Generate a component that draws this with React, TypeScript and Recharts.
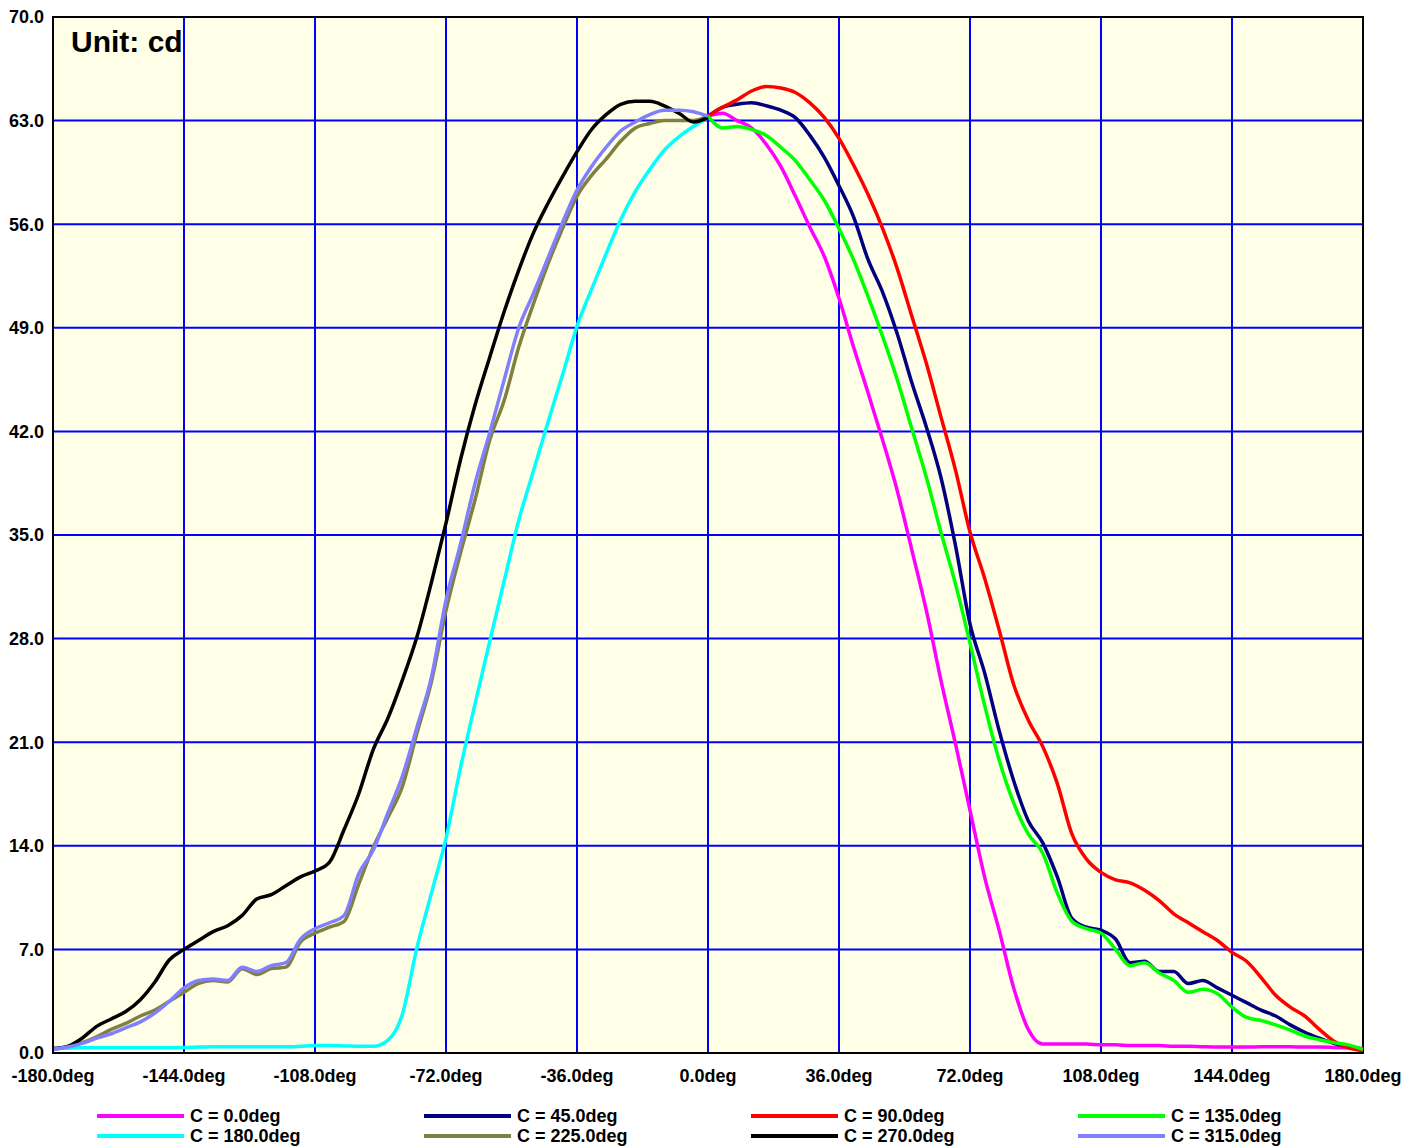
import { CartesianGrid, Line, LineChart, ReferenceArea, XAxis, YAxis } from 'recharts'

// angles (deg) — C-planes 180..315 are drawn on the left half, 0..135 on the right
const LEFT_ANGLES = [
  -180, -176, -172, -168, -164, -160, -156, -152, -148, -144, -140, -136, -132, -128, -124, -120,
  -116, -112, -108, -104, -100, -96, -92, -88, -84, -80, -76, -72, -68, -64, -60, -56, -52, -48,
  -44, -40, -36, -32, -28, -24, -20, -16, -12, -8, -4, 0,
]
const RIGHT_ANGLES = [
  0, 4, 8, 12, 16, 20, 24, 28, 32, 36, 40, 44, 48, 52, 56, 60, 64, 68, 72, 76, 80, 84, 88, 92, 96,
  100, 104, 108, 112, 116, 120, 124, 128, 132, 136, 140, 144, 148, 152, 156, 160, 164, 168, 172,
  176, 180,
]

// intensity, cd
const C_0 = [
  63.3, 63.5, 63.0, 62.5, 61.4, 59.9, 57.9, 55.8, 53.8, 51.0, 47.7, 44.6, 41.4, 38.0, 34.0, 29.9,
  25.2, 20.9, 16.4, 11.9, 8.3, 4.4, 1.6, 0.6, 0.6, 0.6, 0.6, 0.55, 0.55, 0.5, 0.5, 0.5, 0.45, 0.45,
  0.42, 0.4, 0.4, 0.4, 0.42, 0.42, 0.42, 0.4, 0.4, 0.38, 0.35, 0.3,
]
const C_45 = [
  63.3, 63.9, 64.1, 64.2, 64.0, 63.7, 63.2, 62.0, 60.5, 58.6, 56.5, 53.6, 51.4, 48.6, 45.3, 42.3,
  38.9, 34.3, 29.0, 25.7, 21.8, 18.4, 15.7, 14.2, 11.9, 9.1, 8.5, 8.3, 7.7, 6.1, 6.2, 5.5, 5.5, 4.7,
  4.9, 4.4, 3.9, 3.4, 2.9, 2.5, 1.9, 1.4, 1.0, 0.65, 0.4, 0.25,
]
const C_90 = [
  63.3, 63.9, 64.4, 65.0, 65.3, 65.2, 64.9, 64.2, 63.2, 61.8, 60.0, 58.0, 55.7, 53.0, 49.8, 46.6,
  43.0, 39.4, 35.2, 32.1, 28.6, 24.9, 22.5, 20.7, 18.2, 14.8, 13.1, 12.2, 11.7, 11.5, 11.0, 10.3,
  9.4, 8.8, 8.2, 7.6, 6.8, 6.2, 5.1, 3.9, 3.1, 2.5, 1.6, 0.8, 0.35, 0.15,
]
const C_135 = [
  63.3, 62.5, 62.6, 62.4, 62.0, 61.2, 60.3, 59.0, 57.6, 55.7, 53.6, 51.1, 48.4, 45.5, 42.2, 38.9,
  35.2, 31.7, 27.7, 23.5, 19.8, 16.9, 14.8, 13.5, 10.8, 8.9, 8.4, 8.1, 7.0, 5.9, 6.1, 5.4, 4.9, 4.1,
  4.3, 4.0, 3.1, 2.4, 2.2, 1.9, 1.55, 1.15, 0.9, 0.7, 0.55, 0.25,
]
const C_180 = [
  0.3, 0.32, 0.35, 0.35, 0.35, 0.35, 0.35, 0.35, 0.35, 0.38, 0.4, 0.42, 0.42, 0.42, 0.42, 0.42,
  0.42, 0.45, 0.5, 0.5, 0.48, 0.45, 0.45, 0.85, 2.6, 7.1, 10.8, 14.5, 19.3, 23.6, 27.8, 31.9, 36.0,
  39.3, 42.6, 45.8, 49.1, 51.6, 54.0, 56.3, 58.2, 59.7, 61.0, 61.9, 62.6, 63.2,
]
const C_225 = [
  0.25, 0.43, 0.7, 1.1, 1.6, 2.0, 2.5, 2.9, 3.5, 4.1, 4.7, 4.9, 4.8, 5.7, 5.3, 5.7, 5.8, 7.5, 8.1,
  8.5, 8.9, 11.4, 13.9, 15.9, 18.0, 21.6, 25.1, 29.9, 33.8, 37.4, 41.4, 44.1, 47.7, 50.6, 53.3, 55.7,
  57.9, 59.3, 60.4, 61.6, 62.5, 62.8, 63.0, 63.0, 63.0, 63.3,
]
const C_270 = [
  0.3, 0.45, 1.0, 1.8, 2.3, 2.8, 3.6, 4.8, 6.3, 7.0, 7.6, 8.2, 8.6, 9.3, 10.4, 10.7, 11.3, 11.9,
  12.3, 12.9, 15.1, 17.5, 20.5, 22.6, 25.2, 28.1, 31.8, 35.8, 40.1, 43.8, 47.0, 50.1, 52.9, 55.4,
  57.4, 59.2, 60.9, 62.4, 63.4, 64.1, 64.3, 64.3, 64.0, 63.5, 62.9, 63.2,
]
const C_315 = [
  0.25, 0.4, 0.65, 1.0, 1.3, 1.7, 2.1, 2.7, 3.5, 4.4, 4.9, 5.0, 4.9, 5.8, 5.5, 5.9, 6.1, 7.7, 8.4,
  8.8, 9.3, 12.1, 13.7, 16.2, 18.7, 22.0, 25.4, 30.6, 34.4, 38.5, 41.9, 45.5, 49.0, 51.3, 53.7, 56.1,
  58.3, 59.9, 61.2, 62.3, 62.9, 63.4, 63.7, 63.7, 63.6, 63.3,
]

const X_TICKS = [-180, -144, -108, -72, -36, 0, 36, 72, 108, 144, 180]
const Y_TICKS = [0, 7, 14, 21, 28, 35, 42, 49, 56, 63, 70]

const SERIES = [
  { name: 'C = 0.0deg', color: '#ff00ff', angles: RIGHT_ANGLES, values: C_0 },
  { name: 'C = 45.0deg', color: '#000080', angles: RIGHT_ANGLES, values: C_45 },
  { name: 'C = 90.0deg', color: '#ff0000', angles: RIGHT_ANGLES, values: C_90 },
  { name: 'C = 135.0deg', color: '#00ff00', angles: RIGHT_ANGLES, values: C_135 },
  { name: 'C = 180.0deg', color: '#00ffff', angles: LEFT_ANGLES, values: C_180 },
  { name: 'C = 225.0deg', color: '#808040', angles: LEFT_ANGLES, values: C_225 },
  { name: 'C = 270.0deg', color: '#000000', angles: LEFT_ANGLES, values: C_270 },
  { name: 'C = 315.0deg', color: '#8080ff', angles: LEFT_ANGLES, values: C_315 },
]

const FONT = '"Liberation Sans", Arial, sans-serif'
const tickStyle = { fill: '#000', fontSize: 18, fontWeight: 700, fontFamily: FONT }

export default function App() {
  return (
    <div style={{ position: 'relative', width: 1404, height: 1146, fontFamily: FONT }}>
      <style>{'body { margin: 0; overflow: hidden; }'}</style>
      <LineChart width={1404} height={1098} margin={{ top: 17, right: 41, bottom: 0, left: 0 }}>
        <CartesianGrid stroke="#0000ff" strokeWidth={2} fill="#ffffe8" fillOpacity={1} />
        <XAxis
          type="number"
          dataKey="angle"
          domain={[-180, 180]}
          ticks={X_TICKS}
          interval={0}
          tickFormatter={(v: number) => `${v.toFixed(1)}deg`}
          tick={tickStyle}
          tickLine={false}
          tickSize={0}
          tickMargin={16}
          height={45}
          axisLine={{ stroke: '#000', strokeWidth: 2 }}
        />
        <YAxis
          type="number"
          domain={[0, 70]}
          ticks={Y_TICKS}
          interval={0}
          tickFormatter={(v: number) => v.toFixed(1)}
          tick={tickStyle}
          tickLine={false}
          tickSize={0}
          tickMargin={9}
          width={53}
          axisLine={{ stroke: '#000', strokeWidth: 2 }}
        />
        {SERIES.map((s) => (
          <Line
            key={s.name}
            name={s.name}
            data={s.angles.map((a, i) => ({ angle: a, value: s.values[i] }))}
            dataKey="value"
            type="monotone"
            stroke={s.color}
            strokeWidth={3.5}
            dot={false}
            activeDot={false}
            isAnimationActive={false}
          />
        ))}
        <ReferenceArea x1={-180} x2={180} y1={0} y2={70} fill="none" stroke="#000" strokeWidth={2} />
      </LineChart>

      <div
        style={{
          position: 'absolute',
          left: 71,
          top: 24,
          fontSize: 30,
          fontWeight: 700,
          lineHeight: '36px',
          color: '#000',
        }}
      >
        Unit: cd
      </div>

      {SERIES.map((s, i) => (
        <div
          key={s.name}
          style={{
            position: 'absolute',
            left: 97 + (i % 4) * 327,
            top: 1106 + Math.floor(i / 4) * 20,
            height: 20,
            display: 'flex',
            alignItems: 'center',
            fontSize: 18,
            fontWeight: 700,
            whiteSpace: 'nowrap',
          }}
        >
          <span style={{ width: 87, height: 4, background: s.color, marginRight: 6 }} />
          <span>{s.name}</span>
        </div>
      ))}
    </div>
  )
}
